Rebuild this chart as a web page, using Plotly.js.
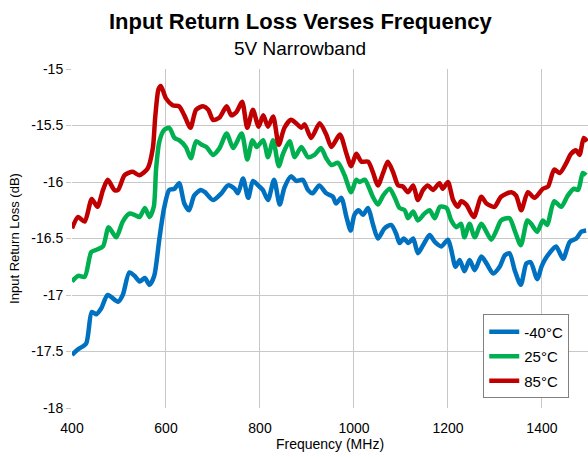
<!DOCTYPE html>
<html>
<head>
<meta charset="utf-8">
<script src="https://cdn.plot.ly/plotly-3.0.1.min.js"></script>
<style>html,body{margin:0;padding:0;background:#fff;}#chart{width:588px;height:457px;}</style>
</head>
<body>
<div id="chart"></div>
<script>
// -40°C series
var freqM40 = [400,413,430,442,452,462,476,498,508,522,533,544,555,565,575,586,596,607,618,628,639,649,660,674,683,700,718,732,746,753,764,775,785,796,806,817,830,842,852,866,877,891,902,912,926,941,955,962,973,984,993,1001,1010,1019,1030,1040,1051,1065,1079,1090,1097,1106,1116,1126,1136,1147,1161,1172,1186,1200,1207,1216,1225,1235,1246,1257,1271,1282,1296,1310,1321,1331,1342,1355,1367,1376,1390,1399,1406,1416,1430,1445,1459,1473,1484,1494];
var lossM40 = [-17.53,-17.48,-17.43,-17.15,-17.17,-17.12,-17.0,-17.06,-17.0,-16.80,-16.83,-16.88,-16.85,-16.91,-16.83,-16.50,-16.23,-16.07,-16.06,-16.01,-16.19,-16.25,-16.12,-16.07,-16.09,-16.16,-16.10,-16.03,-16.06,-16.10,-15.97,-16.14,-15.99,-16.03,-16.07,-16.16,-15.98,-16.20,-16.05,-15.95,-15.99,-15.98,-16.07,-16.10,-16.03,-16.10,-16.13,-16.19,-16.14,-16.31,-16.43,-16.29,-16.25,-16.29,-16.23,-16.37,-16.50,-16.41,-16.38,-16.46,-16.54,-16.50,-16.54,-16.50,-16.63,-16.56,-16.47,-16.53,-16.57,-16.51,-16.60,-16.75,-16.69,-16.79,-16.69,-16.78,-16.66,-16.72,-16.81,-16.75,-16.65,-16.63,-16.78,-16.91,-16.72,-16.71,-16.86,-16.75,-16.69,-16.63,-16.57,-16.68,-16.53,-16.50,-16.44,-16.43];

// 25°C series
var freq25 = [400,413,427,441,452,466,478,494,508,522,533,544,555,565,574,579,586,596,607,618,628,642,653,664,676,686,700,714,729,743,761,773,784,793,807,817,828,840,849,863,874,888,902,916,930,941,952,966,980,994,1005,1012,1023,1033,1040,1051,1062,1076,1087,1097,1108,1115,1126,1136,1150,1161,1172,1183,1197,1207,1218,1228,1235,1246,1257,1271,1292,1303,1313,1331,1342,1355,1369,1377,1390,1402,1411,1426,1441,1455,1468,1477,1487,1494];
var loss25 = [-16.88,-16.83,-16.84,-16.62,-16.60,-16.57,-16.40,-16.49,-16.35,-16.28,-16.29,-16.31,-16.23,-16.31,-16.22,-15.88,-15.64,-15.54,-15.52,-15.61,-15.63,-15.69,-15.79,-15.64,-15.67,-15.69,-15.76,-15.70,-15.57,-15.70,-15.57,-15.80,-15.63,-15.69,-15.63,-15.78,-15.63,-15.86,-15.75,-15.64,-15.78,-15.69,-15.78,-15.76,-15.70,-15.79,-15.85,-15.83,-15.94,-16.09,-15.98,-16.00,-15.98,-16.06,-16.13,-16.20,-16.12,-16.06,-16.14,-16.23,-16.25,-16.32,-16.26,-16.34,-16.28,-16.25,-16.32,-16.22,-16.23,-16.34,-16.40,-16.37,-16.49,-16.37,-16.49,-16.37,-16.51,-16.43,-16.34,-16.32,-16.43,-16.56,-16.34,-16.37,-16.44,-16.34,-16.38,-16.17,-16.22,-16.12,-16.06,-16.07,-15.92,-15.94];

// 85°C series
var freq85 = [400,413,427,442,454,466,476,490,498,512,529,543,561,572,577,584,589,600,614,628,639,652,664,679,690,700,714,729,739,750,762,773,785,797,807,817,828,840,852,866,877,888,895,909,927,941,952,970,984,994,1005,1016,1030,1040,1051,1062,1072,1083,1094,1104,1115,1126,1136,1147,1157,1168,1182,1189,1200,1211,1221,1228,1239,1255,1271,1282,1299,1313,1335,1345,1356,1370,1384,1402,1413,1426,1438,1452,1462,1473,1480,1489,1496];
var loss85 = [-16.41,-16.31,-16.35,-16.15,-16.22,-16.07,-15.98,-16.07,-16.07,-15.94,-15.91,-15.94,-15.88,-15.70,-15.43,-15.18,-15.15,-15.26,-15.32,-15.33,-15.41,-15.52,-15.36,-15.33,-15.36,-15.45,-15.43,-15.33,-15.41,-15.38,-15.29,-15.52,-15.36,-15.51,-15.41,-15.51,-15.42,-15.67,-15.52,-15.45,-15.48,-15.52,-15.49,-15.61,-15.48,-15.58,-15.69,-15.58,-15.75,-15.86,-15.75,-15.82,-15.82,-15.91,-16.03,-15.92,-15.82,-15.91,-16.03,-16.04,-16.09,-16.03,-16.16,-16.07,-16.03,-16.07,-16.01,-16.06,-16.00,-16.16,-16.22,-16.17,-16.20,-16.31,-16.13,-16.19,-16.22,-16.13,-16.09,-16.12,-16.25,-16.09,-16.14,-16.06,-16.04,-15.89,-15.92,-15.83,-15.75,-15.72,-15.76,-15.61,-15.64];

var seriesNames = ['-40°C', '25°C', '85°C'];
var seriesColors = ['#0070C0', '#00B050', '#C00000'];
var xTicks = [400, 600, 800, 1000, 1200, 1400];
var yTicks = [-18, -17.5, -17, -16.5, -16, -15.5, -15];
var titleText = 'Input Return Loss Verses Frequency';
var subtitleText = '5V Narrowband';
var xTitle = 'Frequency (MHz)';
var yTitle = 'Input Return Loss (dB)';

var xs = [freqM40, freq25, freq85];
var ys = [lossM40, loss25, loss85];
var traces = xs.map(function (x, i) {
  return {
    x: x, y: ys[i], name: seriesNames[i], type: 'scatter', mode: 'lines',
    legendgroup: 'g' + i,
    line: {color: seriesColors[i], width: 4.5, shape: 'spline', smoothing: 0.7}
  };
});

var font = 'Arial, "Liberation Sans", sans-serif';
var layout = {
  width: 588, height: 457,
  margin: {l: 72, r: 0, t: 69, b: 49},
  paper_bgcolor: '#ffffff', plot_bgcolor: '#ffffff',
  font: {family: font, color: '#000000', size: 14},
  showlegend: true,
  legend: {
    x: 0.797, xanchor: 'left', y: 0.276, yanchor: 'top',
    bgcolor: '#ffffff', bordercolor: '#808080', borderwidth: 1,
    font: {family: font, size: 15, color: '#000000'},
    traceorder: 'grouped', tracegroupgap: 2
  },
  xaxis: {
    range: [400, 1498], tickvals: xTicks, ticktext: xTicks.map(String),
    showgrid: true, gridcolor: '#c8c8c8', gridwidth: 1,
    zeroline: false, showline: false, ticks: '', ticklabelstandoff: 10,
    tickfont: {family: font, size: 14, color: '#000000'},
    title: {text: xTitle, font: {family: font, size: 14, color: '#000000'}, standoff: 4}
  },
  yaxis: {
    range: [-18, -15], tickvals: yTicks, ticktext: yTicks.map(String),
    showgrid: true, gridcolor: '#c8c8c8', gridwidth: 1,
    zeroline: false, showline: false, ticks: 'outside', ticklen: 5, tickcolor: '#c8c8c8',
    tickfont: {family: font, size: 14, color: '#000000'},
    title: {text: yTitle, font: {family: font, size: 13, color: '#000000'}, standoff: 8}
  },
  annotations: [
    {text: '<b>' + titleText + '</b>', xref: 'paper', yref: 'paper', x: 0.442, y: 1.14,
     xanchor: 'center', yanchor: 'middle', showarrow: false,
     font: {family: font, size: 22, color: '#000000'}},
    {text: subtitleText, xref: 'paper', yref: 'paper', x: 0.442, y: 1.061,
     xanchor: 'center', yanchor: 'middle', showarrow: false,
     font: {family: font, size: 19, color: '#000000'}}
  ]
};

Plotly.newPlot('chart', traces, layout, {displayModeBar: false, staticPlot: true});
</script>
</body>
</html>
